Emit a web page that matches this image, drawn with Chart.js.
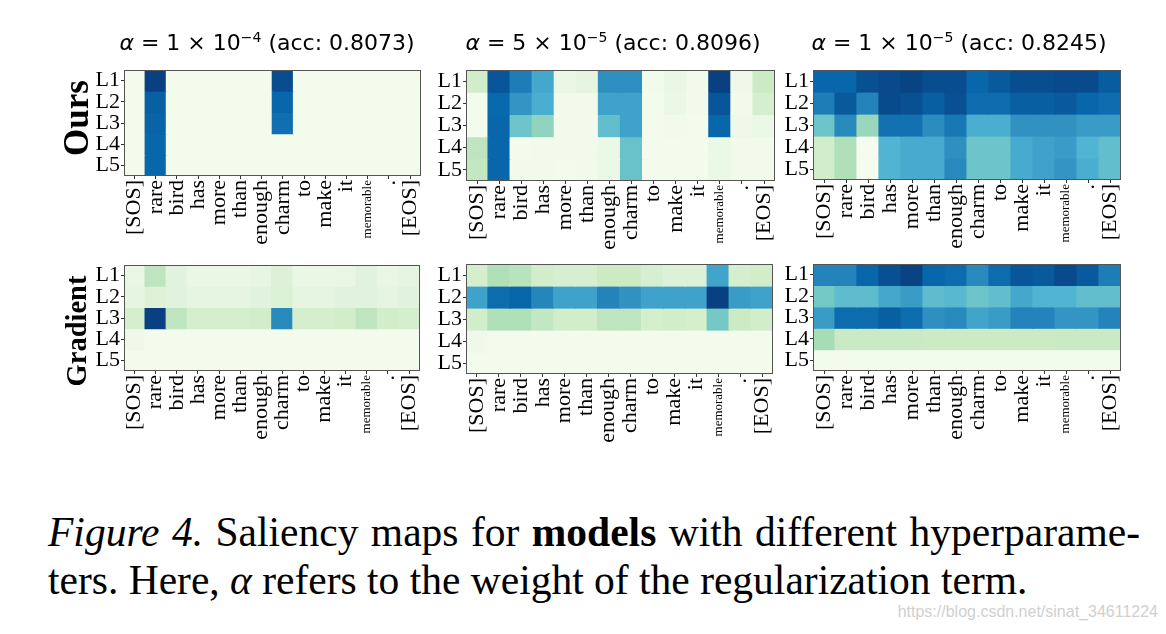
<!DOCTYPE html>
<html>
<head>
<meta charset="utf-8">
<script src="https://cdn.jsdelivr.net/npm/chart.js@4.4.0/dist/chart.umd.min.js"></script>
<style>
  body { margin: 0; background: #fff; width: 1166px; height: 634px; overflow: hidden; position: relative; }
  canvas { position: absolute; }
  .title { position: absolute; font-family: "DejaVu Sans"; font-size: 22px; white-space: nowrap; transform: translateX(-50%); color: #000; }
  .title sup { font-size: 14px; line-height: 0; }
  .rowlabel { position: absolute; font-family: "Liberation Serif"; font-weight: bold; white-space: nowrap; transform: translate(-50%, -50%) rotate(-90deg); color: #000; }
  .caption { position: absolute; left: 48px; font-family: "Liberation Serif"; font-size: 41.5px; line-height: 48px; white-space: nowrap; color: #000; }
  .watermark { position: absolute; right: 8px; top: 603px; font-family: "Liberation Sans"; font-size: 16px; color: #d0d0d0; }
</style>
</head>
<body>
<script>
// ==== データ ====
const tokens = ["[SOS]", "rare", "bird", "has", "more", "than", "enough", "charm", "to", "make", "it", "memorable", ".", "[EOS]"];
const layers = ["L1", "L2", "L3", "L4", "L5"];
const alphaTexts = ["1 × 10<sup>−4</sup>", "5 × 10<sup>−5</sup>", "1 × 10<sup>−5</sup>"];
const accTexts = ["0.8073", "0.8096", "0.8245"];
const rowNames = ["Ours", "Gradient"];

// Ours (行 = L1..L5, 列 = tokens)
const oursA1 = [
  [0.02, 1.00, 0.02, 0.02, 0.02, 0.02, 0.02, 0.96, 0.02, 0.02, 0.02, 0.02, 0.02, 0.02],
  [0.02, 0.90, 0.02, 0.02, 0.02, 0.02, 0.02, 0.88, 0.02, 0.02, 0.02, 0.02, 0.02, 0.02],
  [0.02, 0.89, 0.02, 0.02, 0.02, 0.02, 0.02, 0.85, 0.02, 0.02, 0.02, 0.02, 0.02, 0.02],
  [0.02, 0.88, 0.02, 0.02, 0.02, 0.02, 0.02, 0.02, 0.02, 0.02, 0.02, 0.02, 0.02, 0.02],
  [0.02, 0.88, 0.02, 0.02, 0.02, 0.02, 0.02, 0.02, 0.02, 0.02, 0.02, 0.02, 0.02, 0.02]
];
const oursA2 = [
  [0.22, 0.93, 0.80, 0.66, 0.07, 0.10, 0.74, 0.74, 0.03, 0.07, 0.03, 1.00, 0.04, 0.25],
  [0.02, 0.87, 0.72, 0.64, 0.03, 0.03, 0.68, 0.68, 0.02, 0.06, 0.03, 0.93, 0.03, 0.20],
  [0.02, 0.88, 0.54, 0.44, 0.03, 0.03, 0.57, 0.68, 0.02, 0.03, 0.02, 0.88, 0.04, 0.06],
  [0.30, 0.88, 0.02, 0.03, 0.03, 0.03, 0.06, 0.55, 0.02, 0.02, 0.02, 0.06, 0.03, 0.03],
  [0.28, 0.88, 0.03, 0.03, 0.02, 0.03, 0.06, 0.55, 0.02, 0.02, 0.02, 0.06, 0.03, 0.03]
];
const oursA3 = [
  [0.88, 0.88, 0.95, 0.97, 0.99, 0.96, 0.96, 0.88, 0.92, 0.96, 0.96, 0.97, 0.97, 0.91],
  [0.80, 0.92, 0.78, 0.97, 0.95, 0.90, 0.95, 0.86, 0.86, 0.90, 0.90, 0.92, 0.88, 0.86],
  [0.54, 0.76, 0.42, 0.84, 0.84, 0.75, 0.82, 0.64, 0.64, 0.73, 0.73, 0.73, 0.70, 0.70],
  [0.22, 0.35, 0.01, 0.62, 0.65, 0.65, 0.74, 0.54, 0.54, 0.65, 0.68, 0.70, 0.62, 0.57],
  [0.22, 0.35, 0.01, 0.62, 0.65, 0.65, 0.76, 0.54, 0.54, 0.65, 0.68, 0.72, 0.64, 0.57]
];
// Gradient
const gradA1 = [
  [0.08, 0.30, 0.12, 0.07, 0.07, 0.07, 0.09, 0.15, 0.07, 0.07, 0.08, 0.12, 0.08, 0.10],
  [0.10, 0.14, 0.12, 0.10, 0.10, 0.10, 0.12, 0.16, 0.10, 0.10, 0.12, 0.12, 0.10, 0.12],
  [0.20, 1.00, 0.30, 0.20, 0.20, 0.20, 0.22, 0.76, 0.20, 0.20, 0.22, 0.30, 0.22, 0.20],
  [0.04, 0.02, 0.02, 0.02, 0.02, 0.02, 0.02, 0.02, 0.02, 0.02, 0.02, 0.02, 0.02, 0.02],
  [0.02, 0.02, 0.02, 0.02, 0.02, 0.02, 0.02, 0.02, 0.02, 0.02, 0.02, 0.02, 0.02, 0.02]
];
const gradA2 = [
  [0.20, 0.35, 0.32, 0.22, 0.18, 0.18, 0.25, 0.25, 0.18, 0.15, 0.15, 0.67, 0.20, 0.22],
  [0.68, 0.86, 0.88, 0.77, 0.68, 0.68, 0.78, 0.73, 0.68, 0.68, 0.68, 1.00, 0.70, 0.68],
  [0.22, 0.35, 0.35, 0.28, 0.22, 0.22, 0.30, 0.30, 0.20, 0.22, 0.20, 0.52, 0.25, 0.22],
  [0.04, 0.02, 0.02, 0.02, 0.02, 0.02, 0.02, 0.02, 0.02, 0.02, 0.02, 0.02, 0.02, 0.02],
  [0.02, 0.02, 0.02, 0.02, 0.02, 0.02, 0.02, 0.02, 0.02, 0.02, 0.02, 0.02, 0.02, 0.02]
];
const gradA3 = [
  [0.78, 0.78, 0.88, 0.95, 0.99, 0.88, 0.86, 0.76, 0.86, 0.93, 0.92, 0.97, 0.92, 0.80],
  [0.52, 0.58, 0.58, 0.66, 0.70, 0.58, 0.60, 0.54, 0.57, 0.66, 0.62, 0.62, 0.57, 0.57],
  [0.70, 0.86, 0.86, 0.90, 0.86, 0.74, 0.76, 0.67, 0.70, 0.78, 0.78, 0.72, 0.72, 0.78],
  [0.38, 0.26, 0.26, 0.26, 0.26, 0.25, 0.25, 0.25, 0.25, 0.25, 0.25, 0.26, 0.26, 0.26],
  [0.02, 0.02, 0.02, 0.02, 0.02, 0.02, 0.02, 0.02, 0.02, 0.02, 0.02, 0.02, 0.02, 0.02]
];

// ==== 配置 (ヒートマップ領域: left, top, width, height) ====
const panels = [
  { values: oursA1, box: [124, 70, 298, 106] },
  { values: oursA2, box: [466, 70, 310, 111] },
  { values: oursA3, box: [813, 70, 309, 110] },
  { values: gradA1, box: [124, 265, 297, 106] },
  { values: gradA2, box: [466, 264, 308, 110] },
  { values: gradA3, box: [813, 264, 309, 107] }
];
const titleCenters = [267, 613, 959];
const rowLabelPos = [{ y: 118, size: 35 }, { y: 331, size: 28.5 }];

// GnBu カラーマップ
const gnbuStops = ["#f7fcf0", "#e0f3db", "#ccebc5", "#a8ddb5", "#7bccc4", "#4eb3d3", "#2b8cbe", "#0868ac", "#084081"];
function hexToRgb(h) {
  return [parseInt(h.slice(1, 3), 16), parseInt(h.slice(3, 5), 16), parseInt(h.slice(5, 7), 16)];
}
function gnbu(v) {
  const t = Math.max(0, Math.min(1, v)) * (gnbuStops.length - 1);
  const i = Math.min(Math.floor(t), gnbuStops.length - 2);
  const f = t - i;
  const a = hexToRgb(gnbuStops[i]), b = hexToRgb(gnbuStops[i + 1]);
  const c = a.map((x, k) => Math.round(x + (b[k] - x) * f));
  return `rgb(${c[0]},${c[1]},${c[2]})`;
}

// 枠線プラグイン
const framePlugin = {
  id: 'frame',
  afterDraw(chart) {
    const { ctx, chartArea: a } = chart;
    ctx.save();
    ctx.strokeStyle = '#555';
    ctx.lineWidth = 1;
    ctx.strokeRect(Math.round(a.left) + 0.5, Math.round(a.top) + 0.5, Math.round(a.right - a.left) - 1, Math.round(a.bottom - a.top) - 1);
    ctx.restore();
  }
};

const Y_AXIS_W = 60, X_AXIS_H = 95, PAD = 16;

function drawHeatmap(panel) {
  const [L, T, W, H] = panel.box;
  const canvas = document.createElement('canvas');
  canvas.width = W + Y_AXIS_W + PAD;
  canvas.height = H + PAD + X_AXIS_H;
  canvas.style.left = (L - Y_AXIS_W) + 'px';
  canvas.style.top = (T - PAD) + 'px';
  canvas.style.width = canvas.width + 'px';
  canvas.style.height = canvas.height + 'px';
  document.body.appendChild(canvas);

  const datasets = layers.map((name, r) => ({
    label: name,
    data: tokens.map(() => [r + 0.5, r + 1.5]),
    backgroundColor: panel.values[r].map(gnbu),
    borderWidth: 0,
    inflateAmount: 0.6,
    categoryPercentage: 1,
    barPercentage: 1,
    grouped: false
  }));

  new Chart(canvas, {
    type: 'bar',
    data: { labels: tokens, datasets: datasets },
    options: {
      responsive: false,
      animation: false,
      events: [],
      layout: { padding: { top: PAD, right: PAD, left: 0, bottom: 0 } },
      plugins: { legend: { display: false }, tooltip: { enabled: false } },
      scales: {
        x: {
          type: 'category',
          offset: true,
          grid: { offset: false, drawOnChartArea: false, tickLength: 3, color: '#333' },
          border: { display: false },
          ticks: {
            autoSkip: false,
            minRotation: 90,
            maxRotation: 90,
            padding: 1,
            color: '#000',
            font: (c) => ({ family: 'Liberation Serif', size: tokens[c.index] === 'memorable' ? 13 : 22 })
          },
          afterFit: (axis) => { axis.height = X_AXIS_H; }
        },
        y: {
          type: 'linear',
          reverse: true,
          min: 0.5,
          max: 5.5,
          grid: { drawOnChartArea: false, tickLength: 3, color: '#333' },
          border: { display: false },
          afterBuildTicks: (axis) => { axis.ticks = layers.map((_, i) => ({ value: i + 1 })); },
          ticks: {
            autoSkip: false,
            padding: 1,
            color: '#000',
            font: { family: 'Liberation Serif', size: 22, lineHeight: 1 },
            callback: (v) => layers[v - 1]
          },
          afterFit: (axis) => { axis.width = Y_AXIS_W; }
        }
      }
    },
    plugins: [framePlugin]
  });
}

function addText(cls, html, style) {
  const d = document.createElement('div');
  d.className = cls;
  d.innerHTML = html;
  Object.assign(d.style, style);
  document.body.appendChild(d);
  return d;
}

window.onload = () => {
  panels.forEach(drawHeatmap);

  // タイトル
  alphaTexts.forEach((a, i) => {
    addText('title', `<i>α</i> = ${a} (acc: ${accTexts[i]})`, { left: titleCenters[i] + 'px', top: '30px' });
  });

  // 行ラベル
  rowNames.forEach((n, i) => {
    addText('rowlabel', n, { left: '77px', top: rowLabelPos[i].y + 'px', fontSize: rowLabelPos[i].size + 'px' });
  });

  // キャプション
  const line1 = addText('caption', '<i>Figure 4.</i> Saliency maps for <b>models</b> with different hyperparame-', { top: '508px' });
  addText('caption', 'ters. Here, <i>α</i> refers to the weight of the regularization term.', { top: '556px' });
  // 1行目を両端揃え
  const target = 1092;
  const w = line1.getBoundingClientRect().width;
  const gaps = line1.textContent.split(' ').length - 1;
  line1.style.wordSpacing = ((target - w) / gaps) + 'px';

  addText('watermark', 'https://blog.csdn.net/sinat_34611224', {});
};
</script>
</body>
</html>
